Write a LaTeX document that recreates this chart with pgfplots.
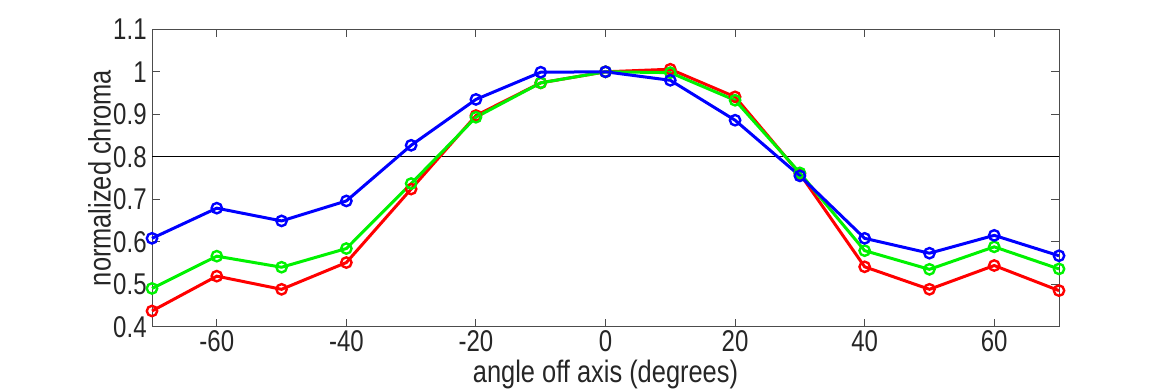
\documentclass[border=0pt]{standalone}
\usepackage{fontspec}
\setmainfont{Liberation Sans}
\newfontfamily\tickfont{Liberation Sans}[FakeStretch=0.8]
\newfontfamily\labfont{Liberation Sans}[FakeStretch=0.82]
\usepackage{pgfplots}
\pgfplotsset{compat=1.18}
\begin{document}
\begin{tikzpicture}[x=1pt,y=1pt]
\useasboundingbox (0,0) rectangle (585,195);
\begin{axis}[
  at={(76pt,31.65pt)}, anchor=south west,
  scale only axis, width=453.5pt, height=148.7pt,
  xmin=-70, xmax=70, ymin=0.4, ymax=1.1,
  xtick={-60,-40,...,60},
  ytick={0.4,0.5,...,1.1},
  yticklabels={0.4,0.5,0.6,0.7,0.8,0.9,1,1.1},
  xticklabels={-60,-40,-20,0,20,40,60},
  tick align=inside,
  major tick length=4pt,
  axis line style={color=black!70, line width=0.5pt},
  tick style={color=black!70, line width=0.5pt},
  ticklabel style={font=\tickfont\fontsize{15}{17}\selectfont, text=black!85, inner sep=0.5pt},
  xticklabel style={yshift=-1pt},
  yticklabel style={xshift=-2pt},
  /pgf/number format/assume math mode=true,
  xlabel={angle off axis (degrees)},
  ylabel={normalized chroma},
  label style={font=\labfont\fontsize{15.5}{17}\selectfont, text=black!85, inner sep=0.5pt},
  xlabel style={yshift=-3pt},
  ylabel style={yshift=0pt},
  every axis plot/.append style={line width=1.5pt, mark=o, mark size=2.6pt, mark options={line width=1.2pt}},
  clip=false,
]
\addplot[black, line width=0.5pt, mark=none] coordinates {(-70,0.8) (70,0.8)};
\addplot[color={rgb,1:red,1;green,0;blue,0}] coordinates {
(-70,0.437) (-60,0.519) (-50,0.488) (-40,0.551) (-30,0.724) (-20,0.897) (-10,0.974) (0,1.0) (10,1.006) (20,0.941) (30,0.760) (40,0.541) (50,0.488) (60,0.544) (70,0.485)};
\addplot[color={rgb,1:red,0;green,0.95;blue,0}] coordinates {
(-70,0.490) (-60,0.566) (-50,0.540) (-40,0.584) (-30,0.737) (-20,0.893) (-10,0.974) (0,1.0) (10,0.998) (20,0.933) (30,0.762) (40,0.579) (50,0.535) (60,0.588) (70,0.536)};
\addplot[color={rgb,1:red,0;green,0;blue,1}] coordinates {
(-70,0.608) (-60,0.679) (-50,0.649) (-40,0.696) (-30,0.827) (-20,0.935) (-10,0.999) (0,1.0) (10,0.980) (20,0.886) (30,0.755) (40,0.608) (50,0.573) (60,0.615) (70,0.567)};
\end{axis}
\end{tikzpicture}
\end{document}
